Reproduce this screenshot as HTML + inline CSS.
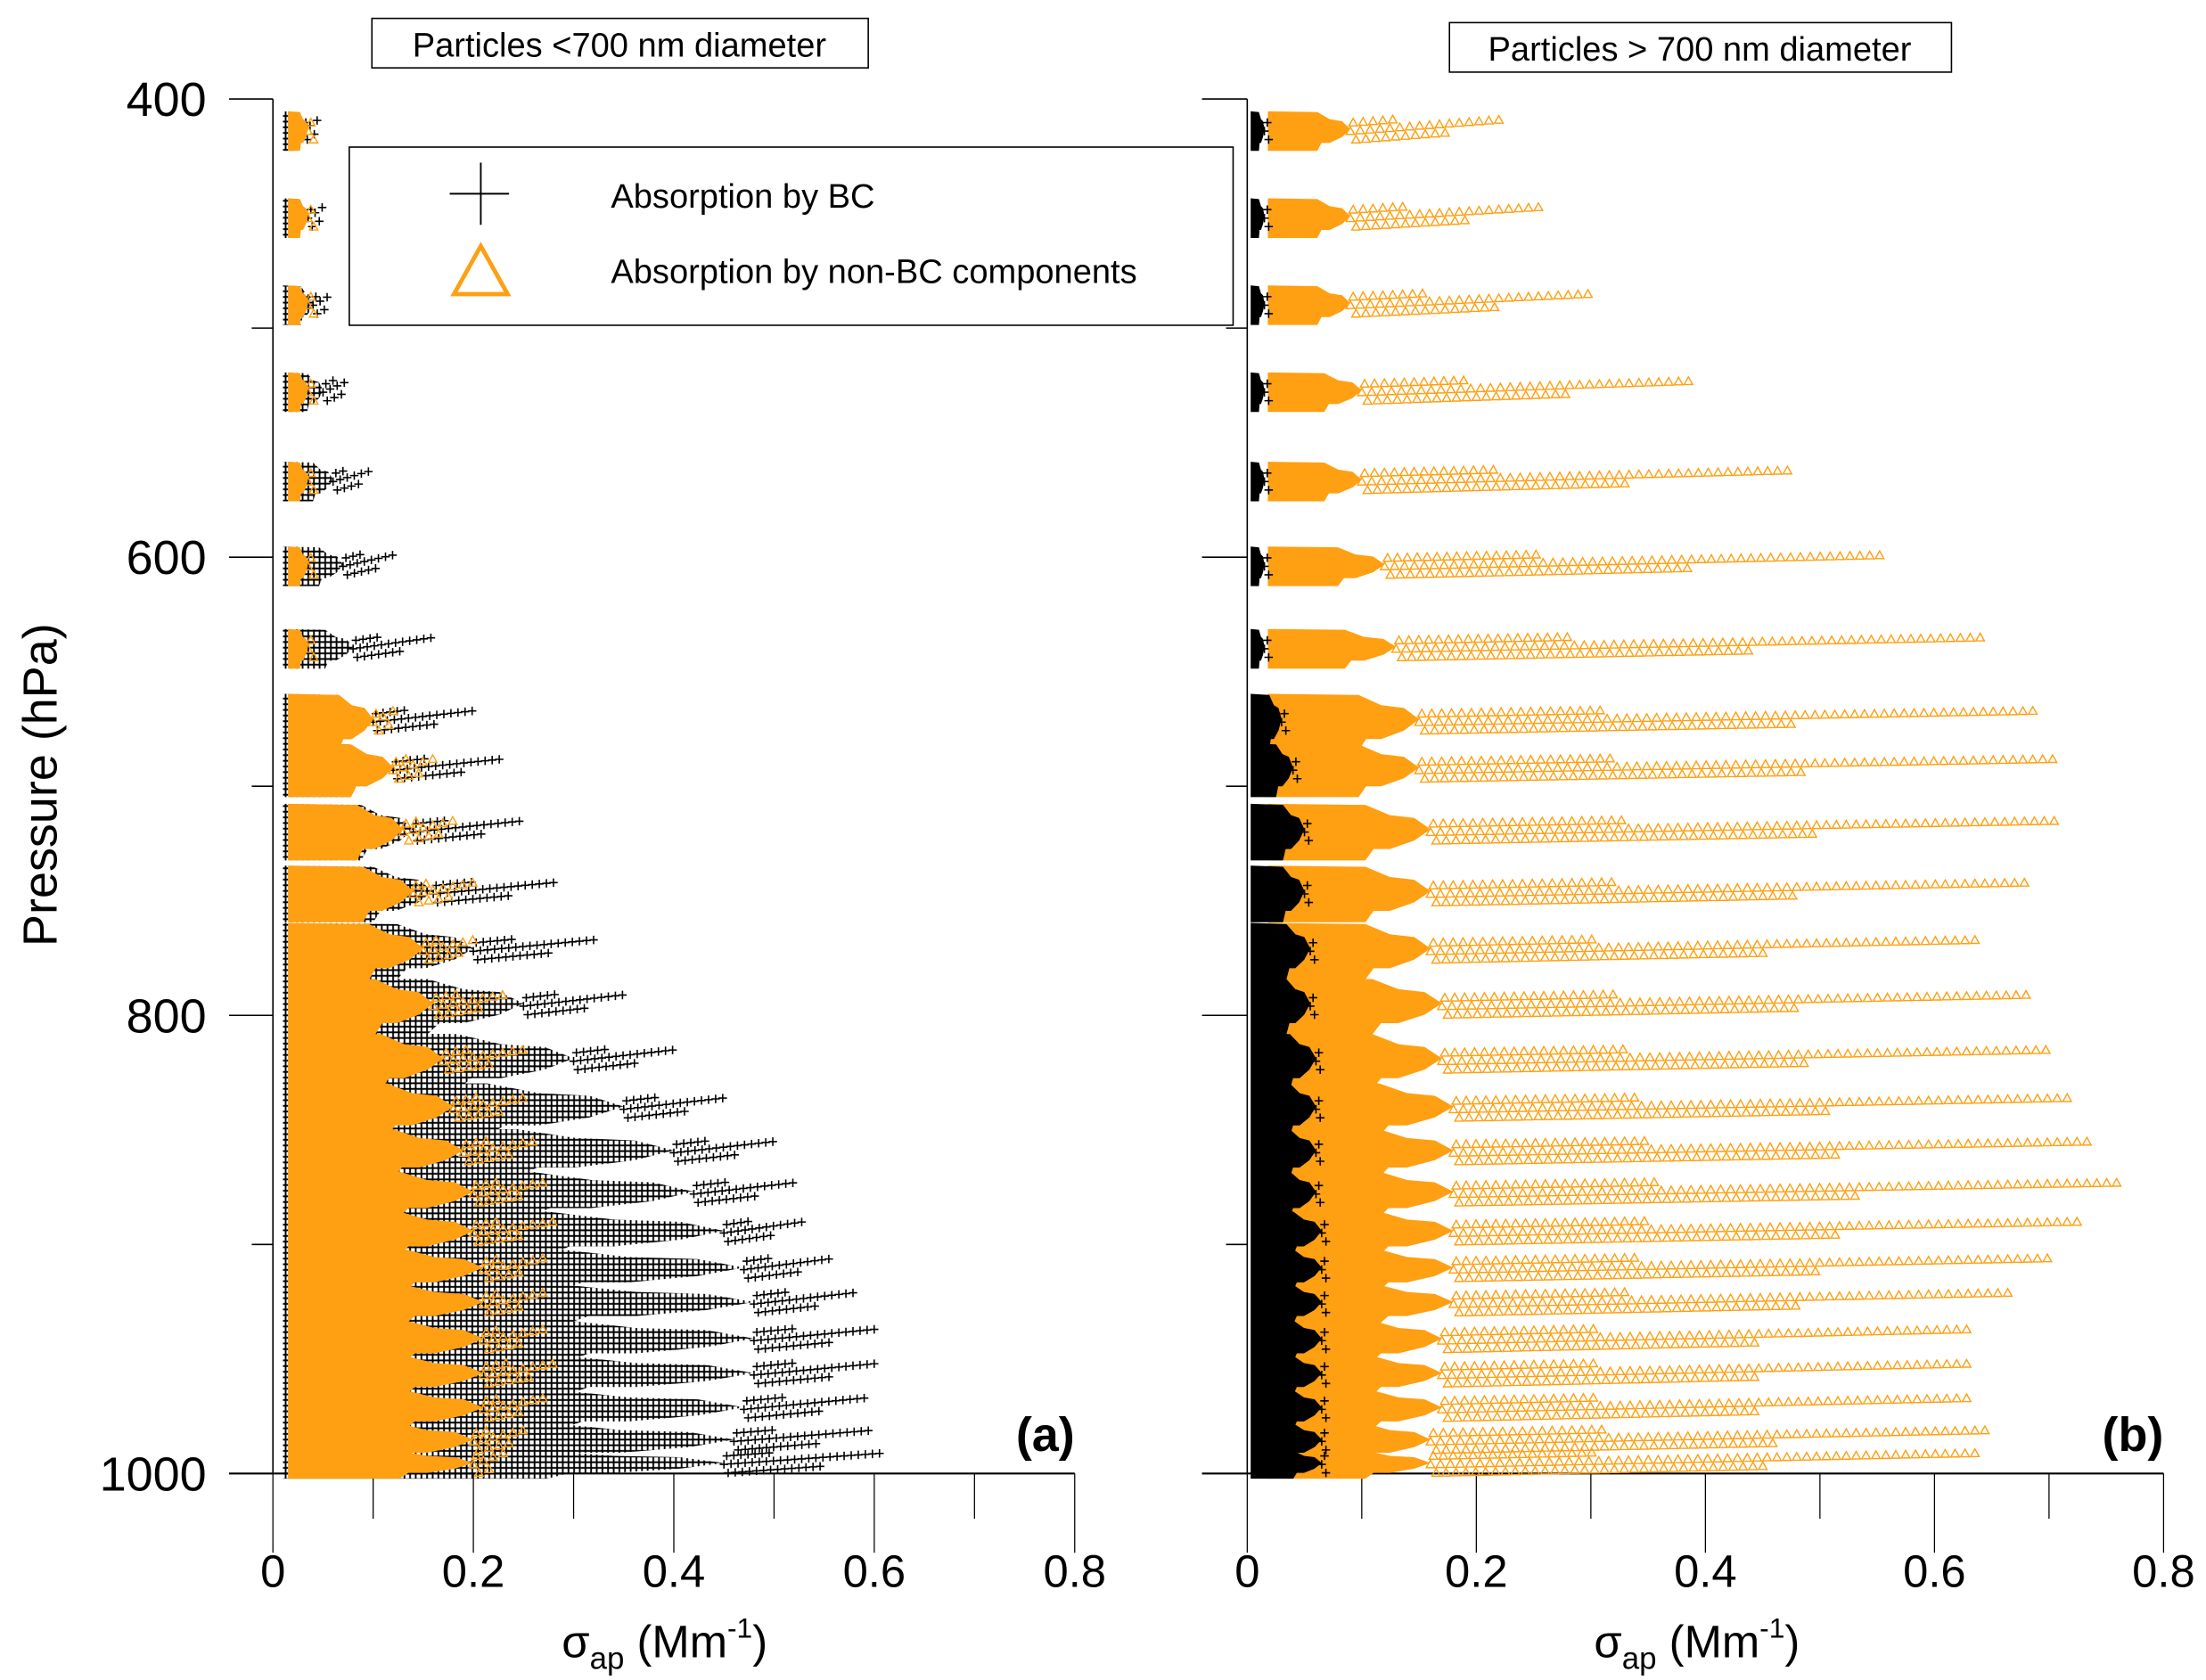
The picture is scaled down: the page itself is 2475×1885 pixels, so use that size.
<!DOCTYPE html>
<html><head><meta charset="utf-8"><style>
html,body{margin:0;padding:0;background:#fff}
svg{display:block}
text{font-family:"Liberation Sans",sans-serif;fill:#000}
</style></head><body>
<svg id="chart" width="2475" height="1885" viewBox="0 0 1560 1188" preserveAspectRatio="none" xmlns="http://www.w3.org/2000/svg">
<defs>
<pattern id="plusHatch" width="4" height="4" patternUnits="userSpaceOnUse">
<path d="M0 2h4M2 0v4" stroke="#000" stroke-width="1.2"/>
</pattern>
</defs>
<g id="axes"></g>
<g id="marks"></g>
</svg>
<script>
// pressure levels (hPa) of profile clusters
const levels=[414,452,490,528,567,604,640,672,693,720,747,772,796,820,841,860,878,895,911,926,942,957,972,986,996];
// panel a (<700 nm)
const aBCmax=[0.045,0.05,0.06,0.075,0.1,0.12,0.16,0.2,0.23,0.25,0.28,0.32,0.35,0.40,0.45,0.50,0.52,0.53,0.56,0.58,0.60,0.60,0.59,0.60,0.61];
const aBCcore=[0.03,0.035,0.04,0.05,0.06,0.07,0.08,0.1,0.12,0.14,0.16,0.2,0.25,0.3,0.35,0.4,0.42,0.45,0.47,0.48,0.48,0.48,0.47,0.46,0.45];
const aNBCmax=[0.035,0.035,0.035,0.035,0.035,0.035,0.035,0.12,0.16,0.18,0.2,0.2,0.23,0.25,0.25,0.26,0.27,0.28,0.27,0.27,0.27,0.28,0.27,0.25,0.23];
const aNBCcore=[0.035,0.035,0.035,0.035,0.035,0.035,0.035,0.1,0.12,0.13,0.14,0.15,0.16,0.17,0.18,0.19,0.2,0.2,0.21,0.21,0.21,0.21,0.21,0.2,0.2];
// panel b (>700 nm)
const bBCmax=[0.015,0.015,0.015,0.015,0.015,0.015,0.015,0.03,0.04,0.05,0.05,0.055,0.055,0.06,0.06,0.06,0.06,0.065,0.065,0.065,0.065,0.065,0.065,0.065,0.065];
const bNBCmax=[0.22,0.26,0.30,0.39,0.48,0.56,0.64,0.69,0.71,0.71,0.68,0.64,0.68,0.70,0.72,0.74,0.76,0.73,0.70,0.67,0.63,0.63,0.63,0.65,0.64];
const bNBCcore=[0.09,0.09,0.09,0.1,0.1,0.12,0.13,0.15,0.15,0.16,0.16,0.16,0.17,0.17,0.18,0.18,0.18,0.18,0.18,0.18,0.17,0.17,0.17,0.16,0.16];
const xTicks=["0","0.2","0.4","0.6","0.8"];
const yTicks=[400,600,800,1000];

const NS="http://www.w3.org/2000/svg";
const Y=p=>70+(p-400)*1.62;
const panels=[{x0:193,x1:760,tl:162,name:'a'},{x0:882,x1:1530,tl:850,name:'b'}];
panels.forEach(P=>{P.X=v=>P.x0+v*(P.x1-P.x0)/0.8;});
function el(tag,attrs,parent){const e=document.createElementNS(NS,tag);for(const k in attrs)e.setAttribute(k,attrs[k]);parent.appendChild(e);return e;}
const axes=document.getElementById('axes'),marks=document.getElementById('marks');
const ORANGE='#FF9F12';

panels.forEach((P,pi)=>{
  const g=el('g',{},axes);
  
  
  el('line',{x1:P.x0,y1:70,x2:P.x0,y2:1042,stroke:'#000','stroke-width':1},g);
  el('line',{x1:P.tl,y1:1042,x2:P.x1,y2:1042,stroke:'#000','stroke-width':1.3},g);
  for(let p=400;p<=1000;p+=100){const major=p%200===0;
    el('line',{x1:major?P.tl:P.x0-15,y1:Y(p),x2:P.x0,y2:Y(p),stroke:'#000','stroke-width':1},g);}
  for(let i=0;i<=8;i++){const v=i*0.1;const major=i%2===0;
    el('line',{x1:P.X(v),y1:1042,x2:P.X(v),y2:major?1098:1074,stroke:'#000','stroke-width':0.8},g);}
  xTicks.forEach(t=>{const tx=el('text',{x:P.X(+t),y:1122,'font-size':32,'text-anchor':'middle'},g);tx.textContent=t;
    });
  if(pi===0) yTicks.forEach(t=>{const tx=el('text',{x:146,y:Y(t)+12,'font-size':34,'text-anchor':'end'},g);tx.textContent=t;
    });
  const xt=el('text',{x:P.x0+(pi?318:277),y:1172,'font-size':32,'text-anchor':'middle'},g);
  xt.innerHTML='σ<tspan font-size="22" dy="8">ap</tspan><tspan dy="-8"> (Mm</tspan><tspan font-size="20" dy="-14">-1</tspan><tspan dy="14">)</tspan>';
  
  const lb=el('text',{x:pi?1530:760,y:1026,'font-size':34,'font-weight':'bold','text-anchor':'end'},g);
  lb.textContent='('+P.name+')';
});

function bandH(i){ if(i<7) return 28; const up=i>0?Y(levels[i])-Y(levels[i-1]):30; return Math.max(18,Math.min(up+4,40)); }
function plusPath(x,y,s){return `M${x-s} ${y}h${2*s}M${x} ${y-s}v${2*s}`;}
function triPath(x,y,s){return `M${x} ${y-s}L${x+s} ${y+s*0.8}L${x-s} ${y+s*0.8}Z`;}
function series(P,minV,core,max,color,kind,name,coreFill){
  const g=el('g',{},marks);
  
  
  let cd='',td='';
  levels.forEach((p,i)=>{
    const yc=Y(p),h=bandH(i);
    const xa=P.X(minV),xc=P.X(core[i]),xm=P.X(max[i]);
    const w=xc-xa;
    // dense core blob (jagged but full)
    cd+=`M${xa} ${yc-h/2}L${xa+w*0.6} ${yc-h*0.48}L${xa+w*0.75} ${yc-h*0.3}L${xa+w*0.9} ${yc-h*0.25}L${xc} ${yc-h*0.05}L${xa+w*0.9} ${yc+h*0.15}L${xa+w*0.75} ${yc+h*0.3}L${xa+w*0.65} ${yc+h*0.3}L${xa+w*0.6} ${yc+h*0.5}L${xa} ${yc+h/2}Z`;
    // sparse tail of markers
    const step=kind==='tri'?7:5;
    for(let x=xc;x<=xm;x+=step){
      const t=(x-xc)/Math.max(1,xm-xc);
      const yy=yc-t*8;
      td+=kind==='tri'?triPath(x,yy,3):plusPath(x,yy,3);
      if(t<0.6) td+=kind==='tri'?triPath(x+4,yy+6,3):plusPath(x+3,yy+6,3);
      if(t<0.3) td+=kind==='tri'?triPath(x+2,yy-6,3):plusPath(x+2,yy-6,3);
    }
  });
  el('path',{d:cd,fill:coreFill,stroke:'none'},g);
  el('path',{d:td,fill:'none',stroke:color,'stroke-width':kind==='tri'?0.9:1},g);
}
const A=panels[0],B=panels[1];
series(A,0.01,aBCcore,aBCmax,'#000','plus','bc-series-a','url(#plusHatch)');
series(A,0.015,aNBCcore,aNBCmax,ORANGE,'tri','non-bc-series-a',ORANGE);
series(B,0.018,bNBCcore,bNBCmax,ORANGE,'tri','non-bc-series-b',ORANGE);
series(B,0.003,bBCmax,bBCmax,'#000','plus','bc-series-b','#000');
</script>
<svg style="position:absolute;left:0;top:0" width="2475" height="1885" viewBox="0 0 1560 1188" preserveAspectRatio="none" xmlns="http://www.w3.org/2000/svg">
<g>
<rect x="263" y="13" width="351" height="35" fill="#fff" stroke="#000" stroke-width="1"/>
<text x="438" y="40" font-size="24" text-anchor="middle" style="font-family:'Liberation Sans',sans-serif">Particles &lt;700 nm diameter</text></g>
<g>
<rect x="1025" y="16" width="355" height="35" fill="#fff" stroke="#000" stroke-width="1"/>
<text x="1202" y="43" font-size="24" text-anchor="middle" style="font-family:'Liberation Sans',sans-serif">Particles &gt; 700 nm diameter</text></g>
<g>
<rect x="247" y="104" width="625" height="126" fill="#fff" stroke="#000" stroke-width="1"/>
<path d="M318 137h42M340 115v44" stroke="#000" stroke-width="1.2"/>
<path d="M340 174L359 208L321 208Z" fill="none" stroke="#FF9F12" stroke-width="3"/>
<text x="432" y="147" font-size="24" style="font-family:'Liberation Sans',sans-serif">Absorption by BC</text>
<text x="432" y="200" font-size="24" style="font-family:'Liberation Sans',sans-serif">Absorption by non-BC components</text></g>
<text x="0" y="0" font-size="34" text-anchor="middle" transform="translate(40,555) rotate(-90)" style="font-family:'Liberation Sans',sans-serif">Pressure (hPa)</text>
</svg>
</body></html>
